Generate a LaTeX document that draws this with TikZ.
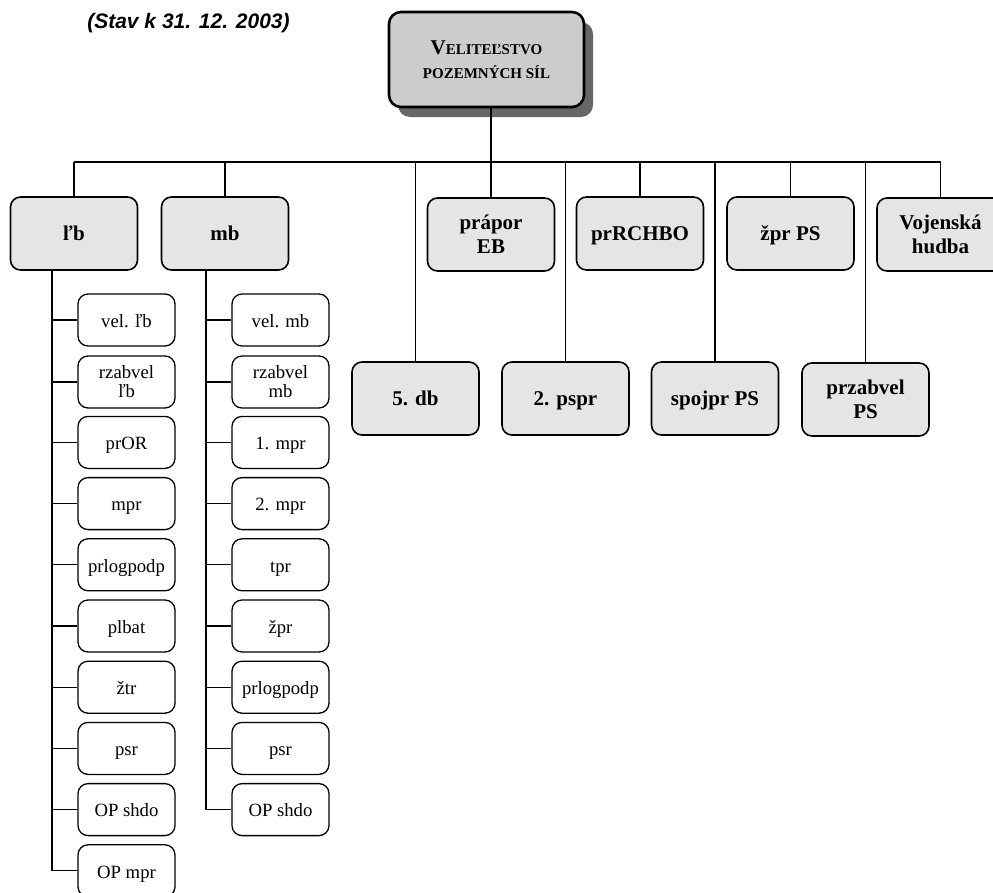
\documentclass[tikz,border=0pt]{standalone}
\usepackage{fontspec}
\setmainfont{Liberation Serif}
\newfontfamily\stavfont{Liberation Sans}
\usetikzlibrary{shadows}

\newcommand{\smcap}[1]{{\fontsize{15}{24}\selectfont #1}}

\begin{document}
\begin{tikzpicture}[x=1pt,y=-1pt,line width=1.3pt,
  velbox/.style={draw,line width=2.6pt,rounded corners=12pt,fill=black!20,
    minimum width=195pt,minimum height=95pt,align=center,
    font=\fontsize{21}{24}\selectfont\bfseries,
    drop shadow={shadow xshift=9pt,shadow yshift=-10pt,fill=black!60,opacity=1}},
  unitbox/.style={draw,line width=1.6pt,rounded corners=10pt,fill=black!10,
    minimum width=127pt,minimum height=73pt,align=center,
    font=\fontsize{21}{24}\selectfont\bfseries},
  subbox/.style={draw,line width=1.3pt,rounded corners=10pt,fill=white,
    minimum width=97pt,minimum height=52pt,align=center,
    font=\fontsize{18.7}{19}\selectfont},
  oneline/.style={text height=14.5pt,text depth=0pt}]

\useasboundingbox (0,0) rectangle (993,892);

\node[font=\stavfont\bfseries\itshape\fontsize{21}{21}\selectfont] (stav) at (188.5,23) {(Stav k 31. 12. 2003)};

\node[velbox] (top) at (486.5,59.5) {V\smcap{ELITEĽSTVO}\\\smcap{POZEMNÝCH SÍL}};

\coordinate (bus) at (491,162);

% upper row
\node[unitbox,oneline] (lb) at (74,233.5) {ľb};
\node[unitbox,oneline] (mb) at (225,233.5) {mb};
\node[unitbox] (eb) at (491,234.5) {prápor\\EB};
\node[unitbox,oneline] (rchbo) at (640,233.5) {prRCHBO};
\node[unitbox,oneline] (zpr) at (790.5,233.5) {žpr PS};
\node[unitbox] (hudba) at (940.5,234.5) {Vojenská\\hudba};

% lower row
\node[unitbox,oneline] (db) at (415.5,398.5) {5. db};
\node[unitbox,oneline] (pspr) at (565.5,398.5) {2. pspr};
\node[unitbox,oneline] (spojpr) at (715,398.5) {spojpr PS};
\node[unitbox] (przabvel) at (865.5,399.5) {przabvel\\PS};

\draw (eb.north |- top.south) -- (eb.north);
\draw (lb.north |- bus) -- (hudba.north |- bus);
\draw (lb.north |- bus) -- (lb.north);
\draw (mb.north |- bus) -- (mb.north);
\draw (rchbo.north |- bus) -- (rchbo.north);
\draw (zpr.north |- bus) -- (zpr.north);
\draw (hudba.north |- bus) -- (hudba.north);
\draw (db.north |- bus) -- (db.north);
\draw (pspr.north |- bus) -- (pspr.north);
\draw (spojpr.north |- bus) -- (spojpr.north);
\draw (przabvel.north |- bus) -- (przabvel.north);

% lb column
\node[subbox,oneline] (lb1) at (126.5,320) {vel. ľb};
\node[subbox] (lb2) at (126.5,382) {rzabvel\\ľb};
\node[subbox,oneline] (lb3) at (126.5,442.4) {prOR};
\node[subbox,oneline] (lb4) at (126.5,503.6) {mpr};
\node[subbox,oneline] (lb5) at (126.5,564.8) {prlogpodp};
\node[subbox,oneline] (lb6) at (126.5,626) {plbat};
\node[subbox,oneline] (lb7) at (126.5,687.2) {žtr};
\node[subbox,oneline] (lb8) at (126.5,748.4) {psr};
\node[subbox,oneline] (lb9) at (126.5,809.6) {OP shdo};
\node[subbox,oneline] (lb10) at (126.5,870.8) {OP mpr};

\coordinate (lbt) at (52,270);
\draw (lb.south -| lbt) |- (lb10.west);
\draw (lb1.west) -- (lb1.west -| lbt) (lb2.west) -- (lb2.west -| lbt)
  (lb3.west) -- (lb3.west -| lbt) (lb4.west) -- (lb4.west -| lbt)
  (lb5.west) -- (lb5.west -| lbt) (lb6.west) -- (lb6.west -| lbt)
  (lb7.west) -- (lb7.west -| lbt) (lb8.west) -- (lb8.west -| lbt)
  (lb9.west) -- (lb9.west -| lbt);

% mb column
\node[subbox,oneline] (mb1) at (280.5,320) {vel. mb};
\node[subbox] (mb2) at (280.5,382) {rzabvel\\mb};
\node[subbox,oneline] (mb3) at (280.5,442.4) {1. mpr};
\node[subbox,oneline] (mb4) at (280.5,503.6) {2. mpr};
\node[subbox,oneline] (mb5) at (280.5,564.8) {tpr};
\node[subbox,oneline] (mb6) at (280.5,626) {žpr};
\node[subbox,oneline] (mb7) at (280.5,687.2) {prlogpodp};
\node[subbox,oneline] (mb8) at (280.5,748.4) {psr};
\node[subbox,oneline] (mb9) at (280.5,809.6) {OP shdo};

\coordinate (mbt) at (206,270);
\draw (mb.south -| mbt) |- (mb9.west);
\draw (mb1.west) -- (mb1.west -| mbt) (mb2.west) -- (mb2.west -| mbt)
  (mb3.west) -- (mb3.west -| mbt) (mb4.west) -- (mb4.west -| mbt)
  (mb5.west) -- (mb5.west -| mbt) (mb6.west) -- (mb6.west -| mbt)
  (mb7.west) -- (mb7.west -| mbt) (mb8.west) -- (mb8.west -| mbt);

\end{tikzpicture}
\end{document}
